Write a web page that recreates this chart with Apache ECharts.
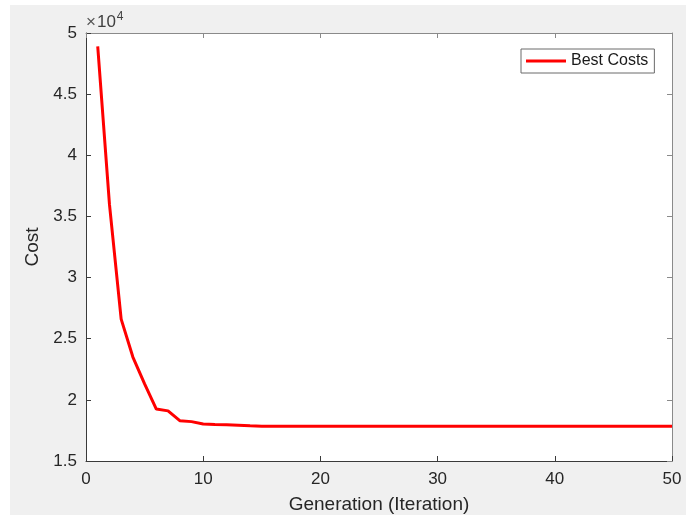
<!DOCTYPE html>
<html>
<head>
<meta charset="utf-8">
<script src="https://cdn.jsdelivr.net/npm/echarts@6/dist/echarts.min.js"></script>
<style>
html,body{margin:0;padding:0;background:#fff;}
#c{width:686px;height:519px;}
</style>
</head>
<body>
<div id="c"></div>
<script>
// Data
const generations = [1,2,3,4,5,6,7,8,9,10,11,12,13,14,15,16,17,18,19,20,21,22,23,24,25,26,27,28,29,30,31,32,33,34,35,36,37,38,39,40,41,42,43,44,45,46,47,48,49,50];
const bestCosts = [48900,36000,26600,23500,21300,19250,19100,18300,18220,18020,17980,17960,17930,17880,17850,17850,17850,17850,17850,17850,17850,17850,17850,17850,17850,17850,17850,17850,17850,17850,17850,17850,17850,17850,17850,17850,17850,17850,17850,17850,17850,17850,17850,17850,17850,17850,17850,17850,17850,17850];
const xTicks = [0,10,20,30,40,50];
const yTicks = [1.5,2,2.5,3,3.5,4,4.5,5];
const seriesName = 'Best Costs';
const xName = 'Generation (Iteration)';
const yName = 'Cost';

const chart = echarts.init(document.getElementById('c'));
const font = 'Liberation Sans, Arial, Helvetica, sans-serif';
const dark = '#3a3a3a';
const light = '#8a8a8a';
const gL = 86, gT = 33, gW = 586, gH = 429;

chart.setOption({
  animation: false,
  backgroundColor: '#fff',
  textStyle: {fontFamily: font},
  graphic: [
    {type: 'rect', z: -10, shape: {x: 10, y: 5, width: 676, height: 510}, style: {fill: '#f0f0f0'}},
    {type: 'text', left: 86, top: 11, z: 100, style: {
      text: '{x|×}{a|10}{b|4}', fill: '#404040', fontFamily: font,
      rich: {
        x: {fontSize: 17, fill: '#555', fontFamily: font, verticalAlign: 'bottom', lineHeight: 20, padding: [0,1,0,0]},
        a: {fontSize: 17, fill: '#404040', fontFamily: font, verticalAlign: 'bottom', lineHeight: 20},
        b: {fontSize: 12, fill: '#404040', fontFamily: font, verticalAlign: 'top', lineHeight: 20, padding: [0,0,9,1]}}
    }}
  ],
  grid: {left: gL, top: gT, width: gW, height: gH, show: true, backgroundColor: '#fff', borderWidth: 0},
  legend: {
    data: [seriesName], left: 521, top: 49, orient: 'horizontal',
    backgroundColor: '#fff', borderColor: '#6a6a6a', borderWidth: 1,
    padding: [4, 6, 4, 5], itemWidth: 40, itemHeight: 3, icon: 'rect', itemGap: 5,
    textStyle: {fontSize: 16, color: '#1a1a1a', fontFamily: font}
  },
  xAxis: [
    {type: 'value', min: xTicks[0], max: xTicks[xTicks.length-1], interval: 10,
     name: xName, nameLocation: 'middle', nameGap: 34,
     nameTextStyle: {fontSize: 19, color: '#262626', fontFamily: font},
     axisLine: {show: true, lineStyle: {color: dark, width: 1}},
     axisTick: {show: true, inside: true, length: 5, lineStyle: {color: dark}},
     axisLabel: {fontSize: 17, color: '#262626', margin: 10, fontFamily: font},
     splitLine: {show: false}},
    {type: 'value', position: 'top', min: xTicks[0], max: xTicks[xTicks.length-1], interval: 10,
     axisLine: {show: true, onZero: false, lineStyle: {color: light, width: 1}},
     axisTick: {show: true, inside: true, length: 5, lineStyle: {color: light}},
     axisLabel: {show: false}, splitLine: {show: false}}
  ],
  yAxis: [
    {type: 'value', min: yTicks[0]*10000, max: yTicks[yTicks.length-1]*10000, interval: 5000,
     name: yName, nameLocation: 'middle', nameGap: 42, nameRotate: 90,
     nameTextStyle: {fontSize: 19, color: '#262626', fontFamily: font},
     axisLine: {show: true, lineStyle: {color: dark, width: 1}},
     axisTick: {show: true, inside: true, length: 5, lineStyle: {color: dark}},
     axisLabel: {fontSize: 17, color: '#262626', margin: 9, fontFamily: font,
       formatter: v => String(Math.round(v/1000)/10)},
     splitLine: {show: false}},
    {type: 'value', position: 'right', min: yTicks[0]*10000, max: yTicks[yTicks.length-1]*10000, interval: 5000,
     axisLine: {show: true, onZero: false, lineStyle: {color: light, width: 1}},
     axisTick: {show: true, inside: true, length: 5, lineStyle: {color: light}},
     axisLabel: {show: false}, splitLine: {show: false}}
  ],
  series: [{
    name: seriesName, type: 'line', xAxisIndex: 0, yAxisIndex: 0,
    data: generations.map((g, i) => [g, bestCosts[i]]),
    showSymbol: false, symbol: 'none', smooth: false,
    lineStyle: {color: '#ff0000', width: 3}, itemStyle: {color: '#ff0000'}
  }]
});
</script>
</body>
</html>
